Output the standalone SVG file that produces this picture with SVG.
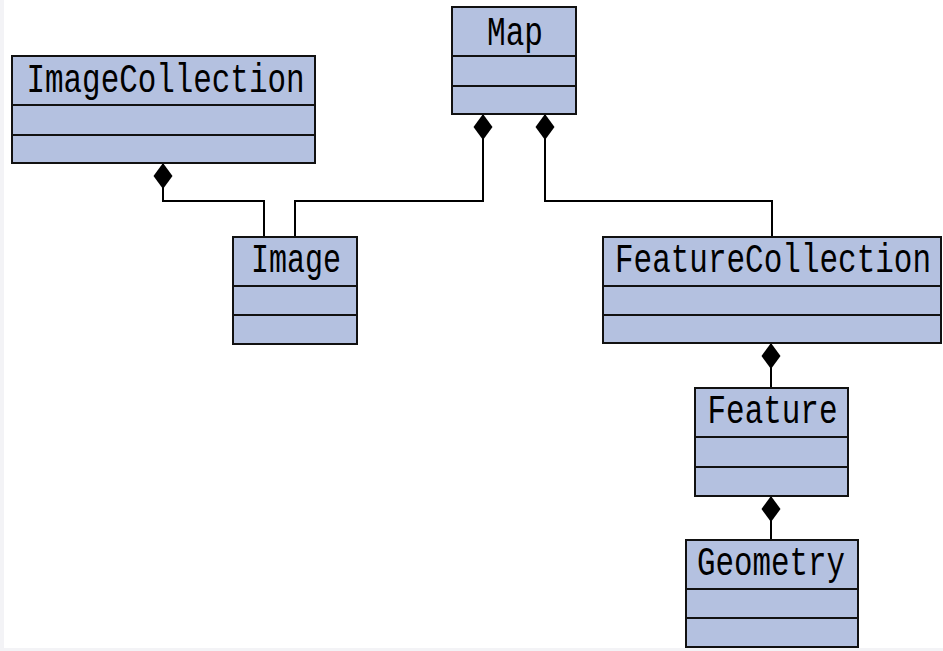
<svg xmlns="http://www.w3.org/2000/svg" width="943" height="651" viewBox="0 0 943 651">
<style>
.box{fill:#b4c1e0;stroke:#111;stroke-width:2}
.div{stroke:#111;stroke-width:2}
.lbl{font-family:"Liberation Mono","DejaVu Sans Mono",monospace;font-size:40px;fill:#000;text-anchor:middle}
.conn{fill:none;stroke:#000;stroke-width:2}
</style>
<defs>
<marker id="diamond" markerUnits="userSpaceOnUse" markerWidth="28" markerHeight="22" viewBox="0 -11 28 22" refX="0" refY="0" orient="auto">
<path d="M0,0 L13,-9.5 L26,0 L13,9.5 Z" fill="#000"/>
</marker>
</defs>
<rect x="0" y="0" width="943" height="651" fill="#fff"/>
<rect x="0" y="0" width="4" height="651" fill="#f3f3f6"/>
<rect x="0" y="648" width="943" height="3" fill="#f3f3f6"/>
<g id="connectors">
<path class="conn" marker-start="url(#diamond)" d="M163,163 V201 H264 V237"/>
<path class="conn" marker-start="url(#diamond)" d="M483,114 V201 H295 V237"/>
<path class="conn" marker-start="url(#diamond)" d="M545,114 V201 H772 V237"/>
<path class="conn" marker-start="url(#diamond)" d="M771,343 V388"/>
<path class="conn" marker-start="url(#diamond)" d="M771,496 V540"/>
</g>
<g id="Map">
<rect class="box" x="452" y="7" width="124" height="107"/>
<line class="div" x1="452" y1="56" x2="576" y2="56"/>
<line class="div" x1="452" y1="86" x2="576" y2="86"/>
<text class="lbl" x="515" y="45" textLength="56" lengthAdjust="spacingAndGlyphs">Map</text>
</g>
<g id="ImageCollection">
<rect class="box" x="12" y="56" width="303" height="107"/>
<line class="div" x1="12" y1="105" x2="315" y2="105"/>
<line class="div" x1="12" y1="135" x2="315" y2="135"/>
<text class="lbl" x="165.5" y="92" textLength="278" lengthAdjust="spacingAndGlyphs">ImageCollection</text>
</g>
<g id="Image">
<rect class="box" x="233" y="237" width="124" height="107"/>
<line class="div" x1="233" y1="286" x2="357" y2="286"/>
<line class="div" x1="233" y1="315" x2="357" y2="315"/>
<text class="lbl" x="296" y="272" textLength="90" lengthAdjust="spacingAndGlyphs">Image</text>
</g>
<g id="FeatureCollection">
<rect class="box" x="603" y="237" width="338" height="106"/>
<line class="div" x1="603" y1="286" x2="941" y2="286"/>
<line class="div" x1="603" y1="315" x2="941" y2="315"/>
<text class="lbl" x="773" y="272" textLength="316" lengthAdjust="spacingAndGlyphs">FeatureCollection</text>
</g>
<g id="Feature">
<rect class="box" x="695" y="388" width="153" height="108"/>
<line class="div" x1="695" y1="437" x2="848" y2="437"/>
<line class="div" x1="695" y1="467" x2="848" y2="467"/>
<text class="lbl" x="772.5" y="423" textLength="130" lengthAdjust="spacingAndGlyphs">Feature</text>
</g>
<g id="Geometry">
<rect class="box" x="686" y="540" width="172" height="107"/>
<line class="div" x1="686" y1="589" x2="858" y2="589"/>
<line class="div" x1="686" y1="618" x2="858" y2="618"/>
<text class="lbl" x="771" y="575" textLength="148" lengthAdjust="spacingAndGlyphs">Geometry</text>
</g>
</svg>
